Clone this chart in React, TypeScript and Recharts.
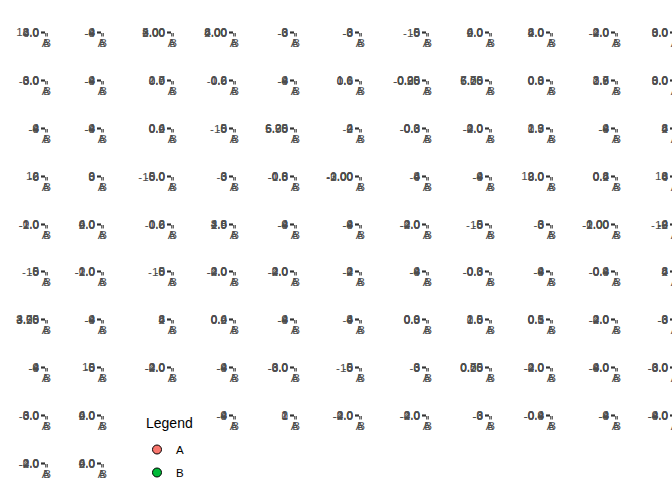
import { ScatterChart, Scatter, XAxis, YAxis } from "recharts";

const categories = ["A", "B"];
const colorA = "#F8766D";
const colorB = "#00BA38";

// one value for A and one for B in each facet, row by row (11 columns, the legend takes the rest)
const valuesA = [
  2.6, -8, 2.25, 3.5, -6, -4, -9, 1.2, 2.4, -2.6, 1.5,
  -2.6, -7, 0.4, -0.6, -5, 0.2, -0.5, 5.25, 0.1, 1.2, 1.5,
  -8, -6, 0.1, -9, 5.5, -1, -0.6, -3, 0.8, -8, 2,
  -6, 0, -10, -2, -1.5, -3, -4, -8, 3.5, 0.2, 4,
  -2, 1, -0.6, 2, -8, -8, -3.6, -10, -3, -2, -10,
  -10, -2, -9, -3, -3.6, -3, -8, -0.6, -8, -0.6, 2,
  3.25, -8, 2, 0.1, -6, -4, 0, 0.5, 0.2, -2.6, -6,
  -8, -5, -3, -7, -4.3, -10, -3, 0, -3, -8, -5.5,
  -2.5, 1.5, -8, 0, -2.5, -3, -6, -0.6, -8, -6.6,
  -3.6, 1.5,
];
const valuesB = [
  9.6, 4, 5, 8, 2, 3, 1, 6, 7.6, 1.4, 6.5,
  2.2, 3, 2.6, 0.9, 4, 1.6, 0.25, 7.5, 0.9, 3.6, 9,
  2, 4, 0.6, 3, 6.25, 3, 0.3, 1.5, 2.6, 4, 8,
  6, 8, 2.5, 6, 0.5, -0.5, 4, 2, 8.6, 0.8, 8,
  1, 4.6, 0.6, 4.6, 4, 2, 0.4, 5, 3, 0.5, 0,
  5, 0.5, 3, 2, 1.2, 2, 4, 0.3, 2, 0.4, 8,
  4, 4, 8, 0.6, 4, 6, 0.9, 2, 0.6, 1, 2,
  2, 5, 1.5, 3, 0.5, 4, 3, 0.75, 0.5, 2.5, 1,
  2.5, 6, 4, 2, 1.5, 1, 3, 0.4, 4, 1.2,
  1, 6,
];
// decimals shown on each facet's y tick labels
const decimals = [
  1, 0, 2, 2, 0, 0, 0, 1, 1, 1, 1,
  1, 0, 1, 1, 0, 1, 2, 2, 1, 1, 1,
  0, 0, 1, 0, 2, 0, 1, 1, 1, 0, 0,
  0, 0, 1, 0, 1, 2, 0, 0, 1, 1, 0,
  1, 1, 1, 1, 0, 0, 1, 0, 0, 2, 0,
  0, 1, 0, 1, 1, 0, 0, 1, 0, 1, 0,
  2, 0, 0, 1, 0, 0, 1, 1, 1, 1, 0,
  0, 0, 1, 0, 1, 0, 0, 2, 1, 1, 1,
  1, 1, 0, 0, 1, 1, 0, 1, 0, 1,
  1, 1,
];

const FONT = '"Liberation Sans", Arial, sans-serif';
const COL_X = [45, 101, 171, 233, 294, 359, 426, 489, 550, 615, 674];
const ROW_Y = [32, 80, 128, 176, 224, 271, 319, 367, 415, 463];
const AXIS_W = 60;
const PLOT_W = 3;
const TOP = 8;

// facet slots: skip where the legend sits
const slots: [number, number][] = [];
for (let r = 0; r < ROW_Y.length; r++) {
  for (let c = 0; c < COL_X.length; c++) {
    if (r === 8 && c === 2) continue;
    if (r === 9 && c >= 2) continue;
    slots.push([r, c]);
  }
}

function Panel({ a, b, dec, left, top }: { a: number; b: number; dec: number; left: number; top: number }) {
  const tickStyle = { fontSize: 11.7, fill: "#4D4D4D", fontFamily: FONT };
  return (
    <div style={{ position: "absolute", left, top }}>
      <ScatterChart width={AXIS_W + PLOT_W + 4} height={TOP + 1 + 20} margin={{ top: TOP, right: 4, bottom: 0, left: 0 }}>
        <XAxis dataKey="x" type="category" allowDuplicatedCategory={false} ticks={categories}
          tick={tickStyle} tickLine={{ stroke: "#333333" }} axisLine={false} tickSize={3.5} tickMargin={2}
          interval={0} height={20} />
        <YAxis dataKey="y" type="number" domain={["auto", "auto"]} tickCount={4} width={AXIS_W}
          tick={tickStyle} tickLine={{ stroke: "#333333" }} axisLine={false} tickSize={4} tickMargin={2} interval={0}
          tickFormatter={(v: number) => v.toFixed(dec)} />
        <Scatter name="A" data={[{ x: categories[0], y: a }]} fill={colorA} isAnimationActive={false} shape={() => <g />} />
        <Scatter name="B" data={[{ x: categories[1], y: b }]} fill={colorB} isAnimationActive={false} shape={() => <g />} />
      </ScatterChart>
    </div>
  );
}

export default function App() {
  return (
    <div style={{ position: "absolute", left: 0, top: 0, width: 672, height: 480, overflow: "hidden", background: "white" }}>
      {slots.map(([r, c], i) => (
        <Panel key={i} a={valuesA[i]} b={valuesB[i]} dec={decimals[i]} left={COL_X[c] - AXIS_W} top={ROW_Y[r] - TOP - 0.5} />
      ))}
      <svg width={90} height={80} style={{ position: "absolute", left: 140, top: 405 }}>
        <text x={6} y={23} fontSize={14} fontFamily={FONT} fill="#000">Legend</text>
        <circle cx={17} cy={44.5} r={4.5} fill={colorA} stroke="#000" strokeWidth={1} />
        <text x={36} y={48.5} fontSize={11.5} fontFamily={FONT} fill="#000">{categories[0]}</text>
        <circle cx={17} cy={67.5} r={4.5} fill={colorB} stroke="#000" strokeWidth={1} />
        <text x={36} y={71.5} fontSize={11.5} fontFamily={FONT} fill="#000">{categories[1]}</text>
      </svg>
    </div>
  );
}
